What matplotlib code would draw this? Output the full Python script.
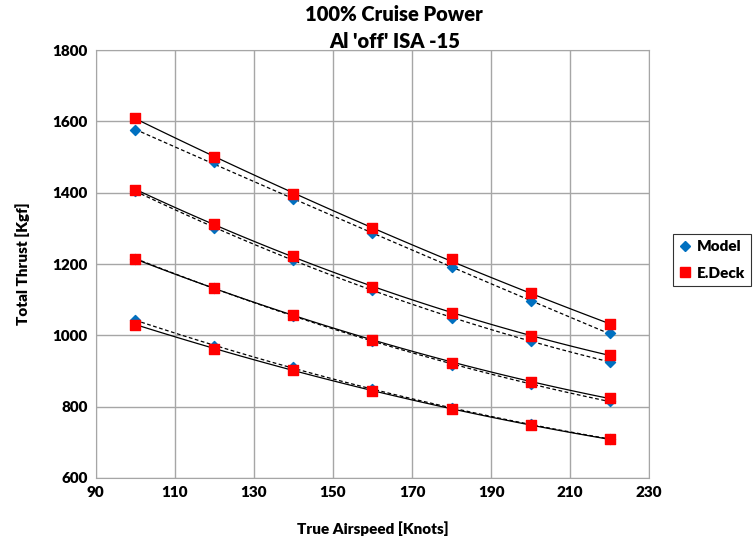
import numpy as np
import matplotlib.pyplot as plt

plt.rcParams['font.family'] = ['Lato', 'DejaVu Sans']
plt.rcParams['font.weight'] = 'bold'

# True airspeed [knots]
speed = np.array([100, 120, 140, 160, 180, 200, 220])

# Total thrust [Kgf], four power curves, top to bottom
model = [
    [1575, 1485, 1382, 1286, 1193, 1095, 1006],
    [1405, 1302, 1210, 1127, 1050, 985, 925],
    [1215, 1132, 1055, 985, 918, 864, 815],
    [1043, 970, 910, 850, 795, 750, 710],
]
edeck = [
    [1610, 1500, 1397, 1300, 1213, 1118, 1031],
    [1408, 1312, 1222, 1137, 1062, 999, 945],
    [1213, 1132, 1058, 988, 923, 870, 824],
    [1030, 963, 903, 845, 793, 748, 709],
]

fig = plt.figure(figsize=(7.54, 5.45), dpi=100)
ax = fig.add_axes([0.127, 0.123, 0.734, 0.785])

xs = np.linspace(100, 220, 100)
for m, e in zip(model, edeck):
    # smooth trend lines like the spreadsheet
    pm = np.polyfit(speed, m, 2)
    pe = np.polyfit(speed, e, 2)
    ax.plot(xs, np.polyval(pm, xs), color='black', lw=0.9, ls=(0, (3, 2)), zorder=2)
    ax.plot(xs, np.polyval(pe, xs), color='black', lw=0.9, zorder=2)
    ax.scatter(speed, m, marker='D', s=26, color='#0070C0', zorder=3)
    ax.scatter(speed, e, marker='s', s=46, color='#FF0000', zorder=4)

ax.set_xlim(90, 230)
ax.set_ylim(600, 1800)
ax.set_xticks(np.arange(90, 231, 20))
ax.set_yticks(np.arange(600, 1801, 200))
ax.grid(True, color='#a6a6a6', lw=1)
ax.set_axisbelow(True)
for s in ax.spines.values():
    s.set_color('#a6a6a6')
ax.tick_params(length=0, labelsize=11, pad=6)
for lbl in ax.get_xticklabels() + ax.get_yticklabels():
    lbl.set_fontweight('heavy')

ax.set_xlabel('True Airspeed [Knots]', fontsize=11, fontweight='heavy', labelpad=16)
ax.set_ylabel('Total Thrust [Kgf]', fontsize=11, fontweight='heavy', labelpad=16)
fig.text(0.523, 0.99, "100% Cruise Power\nAl 'off' ISA -15", ha='center', va='top',
         fontsize=14.5, fontweight='heavy', linespacing=1.45)

h1 = plt.Line2D([], [], marker='D', ls='none', color='#0070C0', markersize=5.5)
h2 = plt.Line2D([], [], marker='s', ls='none', color='#FF0000', markersize=7.5)
leg = fig.legend([h1, h2], ['Model', 'E.Deck'], loc='upper left',
                 bbox_to_anchor=(0.882, 0.585), frameon=True, fancybox=False,
                 edgecolor='black', handlelength=0.8, handletextpad=0.4,
                 labelspacing=0.9, prop={'weight': 'heavy', 'size': 11})
leg.get_frame().set_linewidth(0.8)

fig.savefig('out.png', dpi=100)
